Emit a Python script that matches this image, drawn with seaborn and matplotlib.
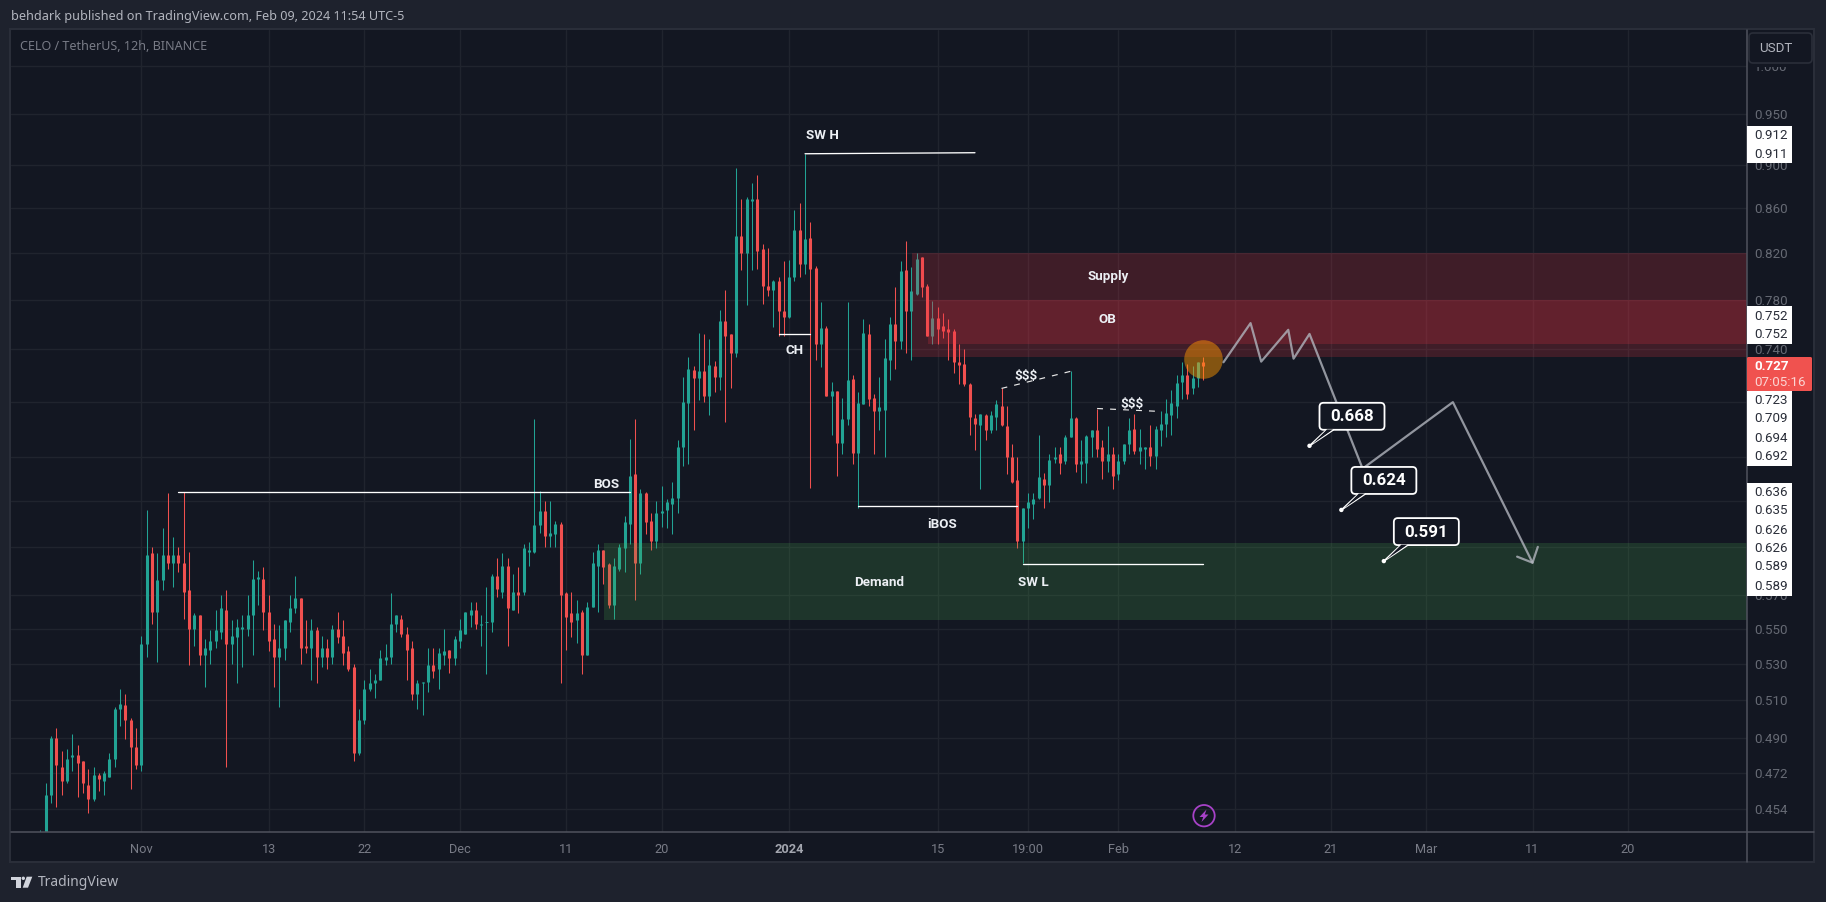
import matplotlib
matplotlib.use('Agg')
import matplotlib.dates as mdates
import matplotlib.pyplot as plt
import pandas as pd
import seaborn as sns
from matplotlib.lines import Line2D
from matplotlib.patches import Circle, FancyBboxPatch, Polygon, Rectangle
from matplotlib.ticker import NullLocator
from matplotlib.transforms import Affine2D, IdentityTransform

# CELO / USDT 12h candles
opens = [
    .440, .441, .461, .490, .475, .468, .480, .481, .478, .466,
    .459, .471, .468, .470, .479, .505, .507, .499, .485, .476,
    .541, .596, .560, .579, .595, .590, .595, .590, .573, .550,
    .558, .535, .538, .543, .548, .561, .541, .545, .550, .550,
    .558, .580, .580, .560, .544, .534, .539, .554, .562, .568,
    .540, .539, .549, .534, .539, .534, .550, .546, .537, .528,
    .482, .499, .516, .519, .521, .532, .534, .553, .556, .547,
    .539, .513, .519, .520, .529, .527, .535, .538, .533, .543,
    .547, .558, .561, .552, .554, .554, .582, .572, .588, .561,
    .572, .572, .597, .597, .614, .623, .607, .608, .615, .571,
    .559, .555, .560, .535, .563, .588, .598, .589, .564, .586,
    .599, .615, .648, .590, .635, .617, .604, .622, .624, .628,
    .632, .667, .699, .724, .718, .723, .704, .727, .719, .763,
    .752, .737, .835, .820, .866, .868, .823, .792, .788, .796,
    .771, .766, .799, .840, .810, .833, .807, .744, .757, .704,
    .708, .670, .687, .717, .663, .698, .752, .703, .693, .694,
    .732, .760, .747, .805, .771, .785, .816, .792, .751, .765,
    .759, .756, .755, .730, .729, .713, .688, .683, .690, .679,
    .689, .697, .682, .660, .644, .604, .625, .628, .632, .645,
    .641, .659, .662, .657, .674, .688, .655, .656, .674, .679,
    .667, .657, .662, .648, .657, .669, .680, .664, .666, .667,
    .661, .679, .684, .690, .697, .715, .720, .710, .718, .730,
]
highs = [
    .444, .467, .491, .495, .483, .484, .492, .486, .478, .474,
    .475, .472, .473, .482, .506, .516, .513, .500, .495, .546,
    .624, .600, .596, .612, .635, .606, .600, .636, .597, .559,
    .558, .544, .549, .561, .570, .573, .555, .556, .558, .570,
    .592, .585, .587, .570, .553, .552, .555, .570, .582, .568,
    .555, .556, .551, .546, .544, .552, .560, .555, .540, .530,
    .505, .521, .527, .524, .538, .541, .571, .558, .558, .551,
    .543, .521, .520, .539, .539, .539, .550, .538, .546, .556,
    .560, .566, .566, .558, .575, .583, .593, .596, .593, .583,
    .587, .602, .603, .687, .637, .630, .630, .617, .616, .572,
    .572, .567, .561, .566, .597, .602, .598, .590, .593, .602,
    .620, .673, .687, .638, .636, .622, .630, .640, .631, .643,
    .672, .719, .734, .727, .753, .752, .748, .731, .772, .788,
    .752, .897, .868, .870, .883, .891, .828, .824, .797, .799,
    .813, .814, .858, .865, .911, .847, .809, .778, .759, .715,
    .708, .703, .778, .720, .707, .764, .760, .706, .719, .748,
    .766, .791, .813, .830, .808, .820, .816, .793, .779, .774,
    .769, .764, .756, .744, .740, .714, .691, .691, .691, .693,
    .701, .710, .697, .669, .660, .625, .635, .635, .676, .649,
    .662, .667, .667, .676, .723, .689, .672, .676, .679, .695,
    .672, .682, .667, .662, .669, .688, .691, .680, .667, .683,
    .682, .693, .702, .709, .720, .730, .729, .727, .730, .734,
]
lows = [
    .436, .438, .457, .455, .461, .467, .473, .460, .462, .452,
    .458, .463, .461, .470, .475, .496, .489, .464, .474, .473,
    .534, .553, .531, .573, .586, .575, .584, .556, .529, .540,
    .529, .517, .530, .539, .544, .475, .530, .519, .528, .546,
    .535, .564, .549, .537, .517, .506, .532, .548, .559, .530,
    .536, .521, .519, .528, .527, .530, .542, .529, .526, .478,
    .481, .497, .515, .511, .521, .529, .530, .548, .545, .521,
    .510, .505, .502, .514, .522, .516, .529, .525, .529, .539,
    .547, .551, .550, .540, .524, .548, .569, .568, .540, .561,
    .559, .570, .588, .596, .609, .600, .600, .600, .519, .538,
    .545, .542, .524, .535, .563, .560, .577, .562, .556, .585,
    .584, .602, .567, .583, .608, .598, .599, .613, .612, .608,
    .622, .654, .655, .679, .701, .700, .690, .707, .709, .685,
    .710, .734, .805, .776, .805, .806, .777, .783, .758, .751,
    .751, .765, .796, .799, .802, .639, .732, .726, .704, .676,
    .647, .662, .683, .655, .625, .698, .697, .662, .679, .660,
    .716, .725, .740, .737, .732, .784, .782, .751, .744, .744,
    .749, .732, .722, .713, .712, .676, .665, .638, .672, .677,
    .679, .682, .648, .642, .599, .590, .612, .618, .631, .625,
    .629, .656, .648, .655, .674, .650, .642, .642, .660, .660,
    .645, .650, .638, .644, .655, .662, .662, .655, .652, .654,
    .652, .668, .674, .676, .688, .702, .702, .706, .711, .716,
]
closes = [
    .441, .461, .490, .476, .468, .479, .481, .477, .467, .459,
    .471, .469, .472, .479, .505, .508, .499, .485, .476, .541,
    .595, .560, .579, .595, .590, .595, .590, .572, .550, .558,
    .535, .539, .543, .549, .562, .541, .546, .551, .551, .558,
    .580, .581, .560, .543, .534, .539, .555, .562, .568, .539,
    .539, .549, .534, .539, .534, .550, .545, .536, .527, .482,
    .499, .516, .519, .521, .533, .534, .553, .558, .547, .538,
    .513, .519, .520, .529, .526, .536, .537, .533, .544, .549,
    .560, .561, .553, .553, .554, .582, .574, .588, .562, .572,
    .570, .599, .598, .614, .623, .607, .609, .615, .570, .557,
    .554, .559, .535, .563, .590, .598, .587, .564, .588, .600,
    .616, .647, .590, .635, .616, .604, .622, .623, .629, .632,
    .667, .700, .725, .718, .723, .704, .728, .719, .763, .751,
    .737, .835, .820, .868, .868, .822, .792, .788, .796, .771,
    .766, .799, .840, .810, .832, .806, .744, .757, .704, .708,
    .670, .687, .716, .663, .699, .753, .702, .693, .696, .733,
    .760, .747, .804, .771, .787, .815, .791, .751, .765, .756,
    .755, .754, .730, .728, .713, .689, .684, .691, .679, .690,
    .698, .683, .660, .643, .604, .625, .629, .631, .646, .641,
    .658, .660, .656, .674, .688, .655, .657, .675, .679, .666,
    .657, .662, .647, .657, .669, .679, .664, .667, .667, .661,
    .680, .684, .692, .699, .714, .720, .706, .718, .730, .727,
]

price_ticks = [.454, .472, .490, .510, .530, .550, .570, .600, .630, .660,
               .700, .740, .780, .820, .860, .900, .950, 1.000]
# the ticks at .60, .63, .66 and .70 sit behind the white price tags
price_tick_labels = ['0.454', '0.472', '0.490', '0.510', '0.530', '0.550', '0.570', '', '', '',
                     '', '0.740', '0.780', '0.820', '0.860', '0.900', '0.950', '1.000']
date_ticks = ['2023-11-01', '2023-11-13', '2023-11-22', '2023-12-01', '2023-12-11',
              '2023-12-20', '2024-01-01', '2024-01-15', '2024-01-23 12:00', '2024-02-01',
              '2024-02-12', '2024-02-21', '2024-03-01', '2024-03-11', '2024-03-20']
date_labels = ['Nov', '13', '22', 'Dec', '11', '20', '2024', '15', '19:00', 'Feb',
               '12', '21', 'Mar', '11', '20']

# drawings on the chart: bar number and price
path_bars = [222.8, 227.9, 229.9, 235, 236, 239, 249, 266, 281]
path_prices = [.730, .761, .7305, .7556, .7328, .7523, .652, .6997, .590]
head_bars = [278.1, 281, 282]
head_prices = [.5938, .590, .600]
solid_lines = [
    ([26, 111], [.636, .636]),    # BOS
    ([139, 145], [.752, .752]),   # CH
    ([144, 176], [.911, .912]),   # SW H
    ([154, 184], [.6265, .6265]), # iBOS
    ([185, 219], [.589, .589]),   # SW L
]
dashed_lines = [
    ([181, 194], [.710, .723]),
    ([199, 210], [.695, .693]),
]
chart_labels = [('BOS', 106.5, .6414), ('CH', 142, .7395), ('SW H', 147.3, .9285),
                ('iBOS', 169.9, .6145), ('SW L', 187, .5775), ('Demand', 158, .5775),
                ('Supply', 201.1, .800), ('OB', 200.9, .764), ('$$$', 185.6, .719),
                ('$$$', 205.5, .698)]
callouts = [(239, .668, '0.668'), (245, .624, '0.624'), (253, .591, '0.591')]

W, H = 1826, 902
BG = '#1e222d'
PANEL = '#131722'
EDGE = '#2a2e39'
GRID = '#20242e'
AXIS = '#50535e'
UP = '#22a394'
DOWN = '#f0504f'
MUTED = '#666a74'

sns.set_theme(style='dark', rc={'figure.facecolor': BG, 'axes.facecolor': PANEL})
plt.rcParams['font.family'] = ['Noto Sans', 'DejaVu Sans']

start = pd.Timestamp('2023-10-22 12:00')
day_zero = mdates.date2num(pd.Timestamp('2023-11-01'))
PX_PER_DAY = 10.62


def bar_x(i):
    return mdates.date2num(start) + i * 0.5


fig = plt.figure(figsize=(W / 100, H / 100), dpi=100, facecolor=BG)
# pixel coordinates from the top left, for everything round the chart
px = Affine2D().scale(1, -1).translate(0, H)
ax = fig.add_axes([11 / W, 1 - 832 / H, (1747 - 11) / W, (832 - 30) / H])

fig.add_artist(Rectangle((10, 29), 1804, 833, transform=px, fc=PANEL, ec=EDGE, lw=1.5, zorder=-1))

df = pd.DataFrame({'open': opens, 'high': highs, 'low': lows, 'close': closes})
df['x'] = [bar_x(i) for i in range(len(df))]
df['color'] = [UP if c >= o else DOWN for o, c in zip(df['open'], df['close'])]
df['top'] = df[['open', 'close']].max(axis=1)
df['bottom'] = df[['open', 'close']].min(axis=1)

ax.set_yscale('log')
ax.vlines(df['x'], df['low'], df['high'], colors=df['color'], lw=0.75, zorder=2)
ax.vlines(df['x'], df['bottom'], df['top'], colors=df['color'], lw=2.2, capstyle='butt', zorder=2.1)
flat = df[df['top'] - df['bottom'] <= .001]
ax.hlines(flat['top'], flat['x'] - 1.6 / PX_PER_DAY, flat['x'] + 1.6 / PX_PER_DAY,
          colors=flat['color'], lw=0.75, zorder=2.1)

ax.set_xlim(day_zero - 130.3 / PX_PER_DAY, day_zero + 1605.7 / PX_PER_DAY)
ax.set_ylim(.4432, 1.039)

# supply, order block and demand zones run to the right edge
x_right = ax.get_xlim()[1]
ax.fill_between([bar_x(164.1), x_right], .734, .8197, color='#f23645', alpha=.2, lw=0, zorder=3)
ax.fill_between([bar_x(167.1), x_right], .7445, .7795, color='#f23645', alpha=.2, lw=0, zorder=3)
ax.fill_between([bar_x(106.1), x_right], .555, .6025, color='#4caf50', alpha=.2, lw=0, zorder=3)

for bars, prices in solid_lines:
    ax.plot([bar_x(b) for b in bars], prices, color='white', lw=0.95, zorder=4)
for bars, prices in dashed_lines:
    ax.plot([bar_x(b) for b in bars], prices, color='#e8e8e8', lw=0.85, ls=(0, (5, 6)), zorder=4)

sns.lineplot(x=[bar_x(b) for b in path_bars], y=path_prices, ax=ax, sort=False, estimator=None,
             color='#b2b5be', lw=1.6, alpha=.8, zorder=4)
sns.lineplot(x=[bar_x(b) for b in head_bars], y=head_prices, ax=ax, sort=False, estimator=None,
             color='#b2b5be', lw=1.6, alpha=.8, zorder=4)
sns.scatterplot(x=[bar_x(219)], y=[.7328], ax=ax, s=772, color='#ff9800', alpha=.48, linewidth=0, zorder=3.5)

for text, bar, price in chart_labels:
    ax.text(bar_x(bar), price, text, color='#eceff4', fontsize=9.6, fontweight='bold', family='Roboto',
            ha='center', va='center', zorder=5)

# price tags with a tail down to the dot
identity = IdentityTransform()
for bar, price, text in callouts:
    x, y = ax.transData.transform((bar_x(bar), price))
    ax.add_patch(Polygon([(x, y), (x + 17, y + 16), (x + 24, y + 16)], closed=True, fc=PANEL, ec='white',
                         lw=1.1, transform=identity, clip_on=False, zorder=6))
    ax.add_patch(FancyBboxPatch((x + 10, y + 16), 65, 27, boxstyle='round,pad=0,rounding_size=4',
                                fc=PANEL, ec='white', lw=1.3, transform=identity, clip_on=False, zorder=6))
    ax.add_patch(Polygon([(x + 17.5, y + 16.4), (x + 23.5, y + 16.4), (x + 3, y + 2)], closed=True, fc=PANEL,
                         ec='none', transform=identity, clip_on=False, zorder=6.1))
    ax.add_patch(Circle((x, y), 2.2, fc='white', ec='none', transform=identity, clip_on=False, zorder=6.2))
    ax.text(x + 42.5, y + 29, text, color='white', fontsize=12.2, fontweight='bold', ha='center',
            va='center', family='Roboto', transform=identity, zorder=7)

ax.set_xticks([mdates.date2num(pd.Timestamp(d)) for d in date_ticks], date_labels)
ax.set_yticks(price_ticks, price_tick_labels)
ax.yaxis.set_minor_locator(NullLocator())
ax.yaxis.tick_right()
ax.tick_params(axis='y', length=0, pad=5, labelcolor=MUTED, labelsize=9.6)
ax.tick_params(axis='x', length=0, pad=8, labelcolor='#787b86', labelsize=9.2)
for label in ax.get_xticklabels() + ax.get_yticklabels():
    label.set_family('Roboto')
ax.get_xticklabels()[6].set_fontweight('bold')
ax.get_xticklabels()[6].set_color('#a3a6af')
ax.grid(True, color=GRID, lw=1.0, zorder=0)
ax.set_axisbelow(True)
ax.set_xlabel('')
ax.set_ylabel('')
for spine in ax.spines.values():
    spine.set_visible(False)
ax.patch.set_alpha(0)


def ptext(x, y, s, **kw):
    kw.setdefault('family', 'Roboto')
    kw.setdefault('va', 'center')
    fig.text(x, y, s, transform=px, **kw)


fig.add_artist(Line2D([11, 1814], [832, 832], transform=px, color=AXIS, lw=1.1, zorder=0.5))
fig.add_artist(Line2D([1747, 1747], [30, 862], transform=px, color=AXIS, lw=1.1, zorder=0.5))

# header and symbol line
ptext(11, 16.5, 'behdark published on TradingView.com, Feb 09, 2024 11:54 UTC-5', color='#b2b5be',
      fontsize=9.1, family='Noto Sans')
ptext(20, 46.5, 'CELO / TetherUS, 12h, BINANCE', color='#787b86', fontsize=9.05, family='Noto Sans')

# currency button, its backing hides most of the 1.000 label
fig.add_artist(Rectangle((1748, 31), 64, 35.5, transform=px, fc=PANEL, ec='none', zorder=0.8))
fig.add_artist(FancyBboxPatch((1749, 33), 63, 30, boxstyle='round,pad=0,rounding_size=4', transform=px,
                              fc=PANEL, ec=EDGE, lw=1.2, zorder=1))
ptext(1759, 48, 'USDT', color='#b2b5be', fontsize=9.6, zorder=2)

# white price tags on the scale
tag_boxes = [
    (126, 163, [(135.5, '0.912'), (154, '0.911')]),
    (306, 344, [(316, '0.752'), (335, '0.752')]),
    (391, 466, [(401, '0.723'), (419, '0.709'), (438, '0.694'), (457, '0.692')]),
    (483, 596, [(493, '0.636'), (511, '0.635'), (530, '0.626'), (549, '0.626'), (567, '0.589'), (586, '0.589')]),
]
for top, bottom, rows in tag_boxes:
    fig.add_artist(Rectangle((1747, top), 45, bottom - top, transform=px, fc='white', ec='none', zorder=1))
    for y, s in rows:
        ptext(1754, y, s, color='#2a2e39', fontsize=9.6, zorder=2)

# last price tag
fig.add_artist(FancyBboxPatch((1747, 357), 65, 34, boxstyle='round,pad=0,rounding_size=1.5', transform=px,
                              fc='#f0524f', ec='none', zorder=1))
ptext(1754, 367, '0.727', color='white', fontsize=9.6, fontweight='bold', zorder=2)
ptext(1754, 382, '07:05:16', color='#fbd5d3', fontsize=9.6, zorder=2)

# lightning mark above the time scale
fig.add_artist(Circle((1204, 815.7), 10.7, transform=px, fc='none', ec='#a742c8', lw=1.3, zorder=1))
bolt = [(1206.5, 809.5), (1199.5, 817), (1203.2, 817), (1201.5, 822), (1208.5, 814.5), (1204.8, 814.5)]
fig.add_artist(Polygon(bolt, closed=True, transform=px, fc='#a742c8', ec='none', zorder=1))

# TradingView logo
logo = '#d1d4dc'
fig.add_artist(Polygon([(11, 876.7), (20.7, 876.7), (20.7, 887.7), (15.7, 887.7), (15.7, 880), (11, 880)],
                       closed=True, transform=px, fc=logo, ec='none', zorder=1))
fig.add_artist(Circle((23.3, 878.3), 1.7, transform=px, fc=logo, ec='none', zorder=1))
fig.add_artist(Polygon([(26.7, 876.7), (32.3, 876.7), (28, 887.7), (22.7, 887.7)], closed=True, transform=px,
                       fc=logo, ec='none', zorder=1))
ptext(37.5, 882.5, 'TradingView', color='#b2b5be', fontsize=10, family='Noto Sans')

fig.savefig('out.png', dpi=100, facecolor=BG)
